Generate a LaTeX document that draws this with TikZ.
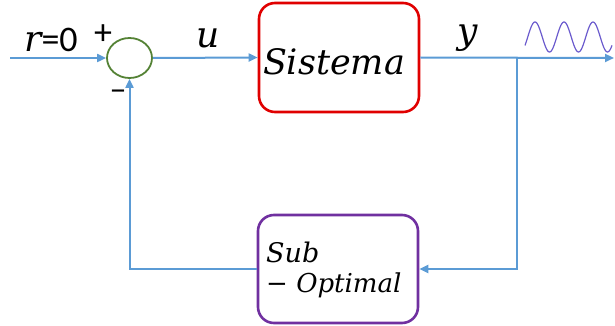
\documentclass[tikz,border=0pt]{standalone}
\usepackage{fontspec}
\setmainfont{Carlito}
\newfontfamily\dvs{DejaVu Serif}
\usetikzlibrary{arrows.meta,shapes.geometric}
\definecolor{lineblue}{HTML}{5B9BD5}
\definecolor{sumgreen}{HTML}{548235}
\definecolor{boxred}{HTML}{E00000}
\definecolor{boxpurple}{HTML}{7030A0}
\definecolor{wave}{HTML}{6A5ACD}
\tikzset{
  conn/.style={draw=lineblue, line width=2pt, -{Triangle[length=9pt,width=8pt]}},
  sumnode/.style={ellipse, draw=sumgreen, line width=1.8pt, minimum width=45pt, minimum height=40pt, inner sep=0pt},
  blockbox/.style={rectangle, rounded corners=16pt, line width=2.6pt, inner sep=0pt},
}
\begin{document}
\begin{tikzpicture}[x=1pt,y=-1pt]
\useasboundingbox (0,0) rectangle (615,326);
\node[sumnode] (s) at (129.5,58) {};
\node[blockbox, draw=boxred, minimum width=160pt, minimum height=109pt] (sys) at (339,57.5) {};
\node[font=\dvs\itshape\fontsize{35}{38}\selectfont] (syst) at (334,62) {Sistema};
\node[blockbox, draw=boxpurple, minimum width=160pt, minimum height=108pt] (sub) at (338,269) {};
\node[anchor=west, inner sep=0pt, font=\dvs\itshape\fontsize{27}{30}\selectfont] (subt1) at (266,252) {Sub};
\node[anchor=west, inner sep=0pt, font=\dvs\fontsize{26}{30}\selectfont] (subt2) at (266,285) {−\ \itshape Optimal};
\coordinate (in) at (10,58);
\coordinate (out) at (614,58);
\coordinate (br) at (517,58);
\draw[conn] (in) -- (s.west);
\draw[conn] (s.east) -- (sys.west);
\draw[conn] (sys.east) -- (out);
\draw[conn] (br) |- (sub.east);
\draw[conn] (sub.west) -| (s.south);
\node[font=\fontsize{36}{38}\selectfont] (rlab) at (51,40) {{\dvs\itshape r}=0};
\node[font=\fontsize{36}{38}\selectfont] (plus) at (103,35) {+};
\node[font=\fontsize{34}{36}\selectfont] (minus) at (118,95) {\textendash};
\node[font=\dvs\itshape\fontsize{36}{38}\selectfont] (ulab) at (208,38) {u};
\node[font=\dvs\itshape\fontsize{36}{38}\selectfont] (ylab) at (468,38) {y};
\draw[wave, line width=1.2pt, domain=525:612, samples=120, smooth] plot (\x, {37 - 15*sin(12.4138*(\x-527.75))});
\end{tikzpicture}
\end{document}
